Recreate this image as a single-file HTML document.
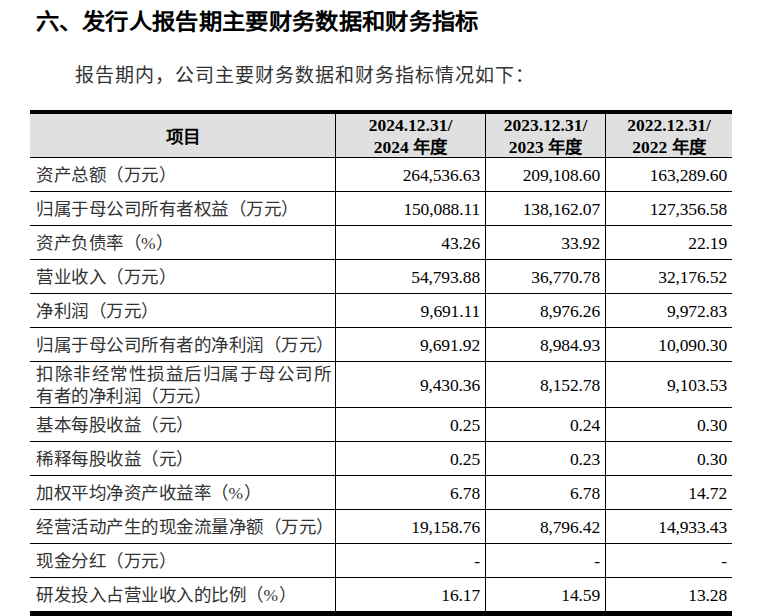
<!DOCTYPE html>
<html lang="zh-CN"><head><meta charset="utf-8">
<style>
html,body{margin:0;padding:0;background:#fff;}
body{width:777px;height:616px;overflow:hidden;position:relative;font-family:"Liberation Serif",serif;color:#000;}
.a{position:absolute;white-space:nowrap;}
.h{position:absolute;background:#000;}
.t{font-family:"Liberation Sans",sans-serif;font-weight:bold;letter-spacing:0.33px;transform:scaleY(0.91);transform-origin:0 0;font-size:23.33px;line-height:23.33px;left:35.5px;top:11.5px;color:#000;}
.s{font-size:19px;line-height:20px;letter-spacing:1px;left:75px;top:65.8px;color:#333;}
.c{letter-spacing:0.5px;font-size:17.5px;line-height:21.6px;color:#333;}
.n{letter-spacing:-0.15px;font-size:17.5px;line-height:21.6px;text-align:right;}
.hd{font-size:17.5px;line-height:21.6px;text-align:center;font-weight:bold;}
.hb{position:absolute;background:#e0e0e0;}
</style></head><body>

<div class="a t">六、发行人报告期主要财务数据和财务指标</div>
<div class="a s">报告期内，公司主要财务数据和财务指标情况如下：</div>
<div class="hb" style="left:30px;top:114px;width:702px;height:43px"></div>
<div class="h" style="left:30px;top:110px;width:702px;height:4px"></div>
<div class="h" style="left:30px;top:611px;width:702px;height:6px"></div>
<div class="h" style="left:30px;top:157px;width:702px;height:1px"></div>
<div class="h" style="left:30px;top:191px;width:702px;height:1px"></div>
<div class="h" style="left:30px;top:225px;width:702px;height:1px"></div>
<div class="h" style="left:30px;top:259px;width:702px;height:1px"></div>
<div class="h" style="left:30px;top:293px;width:702px;height:1px"></div>
<div class="h" style="left:30px;top:327px;width:702px;height:1px"></div>
<div class="h" style="left:30px;top:361px;width:702px;height:1px"></div>
<div class="h" style="left:30px;top:407px;width:702px;height:1px"></div>
<div class="h" style="left:30px;top:441px;width:702px;height:1px"></div>
<div class="h" style="left:30px;top:475px;width:702px;height:1px"></div>
<div class="h" style="left:30px;top:509px;width:702px;height:1px"></div>
<div class="h" style="left:30px;top:543px;width:702px;height:1px"></div>
<div class="h" style="left:30px;top:577px;width:702px;height:1px"></div>
<div class="h" style="left:335px;top:114px;width:1px;height:497px"></div>
<div class="h" style="left:485px;top:114px;width:1px;height:497px"></div>
<div class="h" style="left:605px;top:114px;width:1px;height:497px"></div>
<div class="a hd" style="left:30px;width:305px;top:127px;font-family:'Liberation Sans',sans-serif">项目</div>
<div class="a hd" style="left:336px;width:149px;top:115px">2024.12.31/<br>2024 年度</div>
<div class="a hd" style="left:486px;width:119px;top:115px">2023.12.31/<br>2023 年度</div>
<div class="a hd" style="left:606px;width:126px;top:115px">2022.12.31/<br>2022 年度</div>
<div class="a c" style="left:36px;top:165.00px">资产总额（万元）</div>
<div class="a n" style="right:297px;top:165.00px">264,536.63</div>
<div class="a n" style="right:177px;top:165.00px">209,108.60</div>
<div class="a n" style="right:50px;top:165.00px">163,289.60</div>
<div class="a c" style="left:36px;top:199.00px">归属于母公司所有者权益（万元）</div>
<div class="a n" style="right:297px;top:199.00px">150,088.11</div>
<div class="a n" style="right:177px;top:199.00px">138,162.07</div>
<div class="a n" style="right:50px;top:199.00px">127,356.58</div>
<div class="a c" style="left:36px;top:233.00px">资产负债率（%）</div>
<div class="a n" style="right:297px;top:233.00px">43.26</div>
<div class="a n" style="right:177px;top:233.00px">33.92</div>
<div class="a n" style="right:50px;top:233.00px">22.19</div>
<div class="a c" style="left:36px;top:267.00px">营业收入（万元）</div>
<div class="a n" style="right:297px;top:267.00px">54,793.88</div>
<div class="a n" style="right:177px;top:267.00px">36,770.78</div>
<div class="a n" style="right:50px;top:267.00px">32,176.52</div>
<div class="a c" style="left:36px;top:301.00px">净利润（万元）</div>
<div class="a n" style="right:297px;top:301.00px">9,691.11</div>
<div class="a n" style="right:177px;top:301.00px">8,976.26</div>
<div class="a n" style="right:50px;top:301.00px">9,972.83</div>
<div class="a c" style="left:36px;top:335.00px">归属于母公司所有者的净利润（万元）</div>
<div class="a n" style="right:297px;top:335.00px">9,691.92</div>
<div class="a n" style="right:177px;top:335.00px">8,984.93</div>
<div class="a n" style="right:50px;top:335.00px">10,090.30</div>
<div class="a c" style="left:36px;top:364.20px"><span style="letter-spacing:1.5px">扣除非经常性损益后归属于母公司所</span><br>有者的净利润（万元）</div>
<div class="a n" style="right:297px;top:375.00px">9,430.36</div>
<div class="a n" style="right:177px;top:375.00px">8,152.78</div>
<div class="a n" style="right:50px;top:375.00px">9,103.53</div>
<div class="a c" style="left:36px;top:415.00px">基本每股收益（元）</div>
<div class="a n" style="right:297px;top:415.00px">0.25</div>
<div class="a n" style="right:177px;top:415.00px">0.24</div>
<div class="a n" style="right:50px;top:415.00px">0.30</div>
<div class="a c" style="left:36px;top:449.00px">稀释每股收益（元）</div>
<div class="a n" style="right:297px;top:449.00px">0.25</div>
<div class="a n" style="right:177px;top:449.00px">0.23</div>
<div class="a n" style="right:50px;top:449.00px">0.30</div>
<div class="a c" style="left:36px;top:483.00px">加权平均净资产收益率（%）</div>
<div class="a n" style="right:297px;top:483.00px">6.78</div>
<div class="a n" style="right:177px;top:483.00px">6.78</div>
<div class="a n" style="right:50px;top:483.00px">14.72</div>
<div class="a c" style="left:36px;top:517.00px">经营活动产生的现金流量净额（万元）</div>
<div class="a n" style="right:297px;top:517.00px">19,158.76</div>
<div class="a n" style="right:177px;top:517.00px">8,796.42</div>
<div class="a n" style="right:50px;top:517.00px">14,933.43</div>
<div class="a c" style="left:36px;top:551.00px">现金分红（万元）</div>
<div class="a n" style="right:297px;top:551.00px">-</div>
<div class="a n" style="right:177px;top:551.00px">-</div>
<div class="a n" style="right:50px;top:551.00px">-</div>
<div class="a c" style="left:36px;top:585.00px">研发投入占营业收入的比例（%）</div>
<div class="a n" style="right:297px;top:585.00px">16.17</div>
<div class="a n" style="right:177px;top:585.00px">14.59</div>
<div class="a n" style="right:50px;top:585.00px">13.28</div>
</body></html>
